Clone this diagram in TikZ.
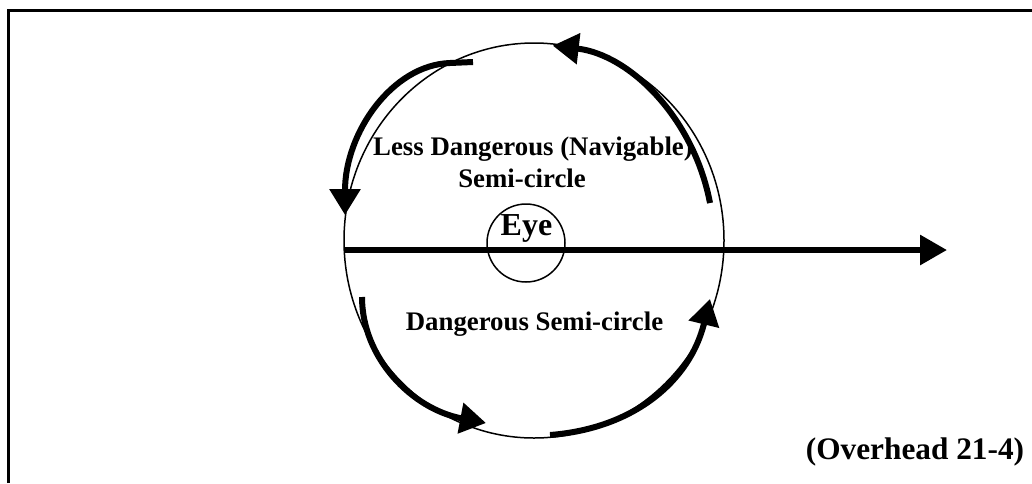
\documentclass[tikz,border=0pt]{standalone}
\usepackage{fontspec}
\setmainfont{Liberation Serif}
\usetikzlibrary{arrows.meta,shapes.geometric}
\begin{document}
\begin{tikzpicture}[x=1pt,y=-1pt,
  thinline/.style={line width=1.5pt},
  bigarrow/.style={line width=6pt,-{Triangle[length=27pt,width=29pt]}},
  swirl/.style={line width=6pt,line cap=butt,line join=round,-{Triangle[length=26pt,width=30pt]}},
  lbl/.style={inner sep=0pt,anchor=base,font=\bfseries\fontsize{26.8}{32}\selectfont}]
\useasboundingbox (0,0) rectangle (1032,483);
% frame
\draw[line width=3pt] (8,483) -- (8,10) -- (1032,10);
% storm circle
\node[draw,thinline,ellipse,minimum width=380pt,minimum height=395pt,inner sep=0pt] (storm) at (534,240.5) {};
% eye
\node[draw,thinline,circle,minimum size=78pt,inner sep=0pt] (eye) at (526,243) {};
% track arrow
\coordinate (hs) at (344,250);
\coordinate (he) at (947,250);
\draw[bigarrow] (hs) -- (he);
% swirl arrows
\coordinate (a1s) at (710,203);
\coordinate (a2s) at (473,62);
\coordinate (a2m) at (450,63);
\coordinate (a2e) at (345,215);
\coordinate (a3s) at (362,297);
\coordinate (a3e) at (486,423);
\coordinate (a4s) at (550,435);
\coordinate (a4e) at (710,299);
\draw[swirl] (a1s) arc[start angle=-12,end angle=-84,x radius=180,y radius=200];
\draw[swirl] (a2s) -- (a2m) .. controls (392,65) and (345,133) .. (a2e);
\draw[swirl] (a3s) .. controls (362,358) and (412,409) .. (a3e);
\draw[swirl] (a4s) .. controls (634,428.5) and (690,381) .. (a4e);
% labels
\node[lbl] (less) at (533,155) {Less Dangerous (Navigable)};
\node[lbl] (semi) at (522,187) {Semi-circle};
\node[lbl,font=\bfseries\fontsize{32}{36}\selectfont] (eyet) at (526.5,235) {Eye};
\node[lbl] (dang) at (534.5,330) {Dangerous Semi-circle};
\node[lbl,font=\bfseries\fontsize{31.3}{36}\selectfont] (over) at (915,459) {(Overhead 21-4)};
\end{tikzpicture}
\end{document}
